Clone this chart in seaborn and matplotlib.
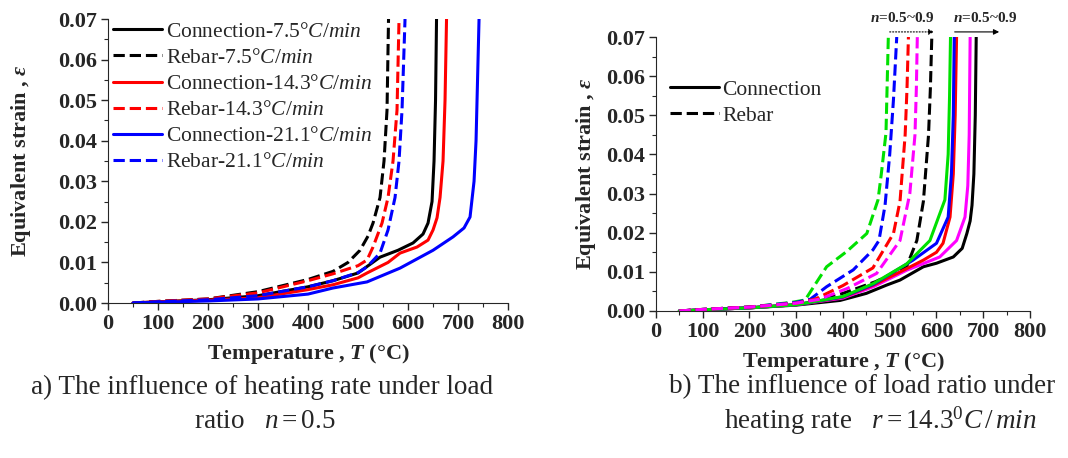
import pandas as pd
import matplotlib.pyplot as plt
import seaborn as sns

# -----------------------------
# DATA  (a) heating rate, n = 0.5
# -----------------------------
a_labels = ["Connection-7.5°$C/min$", "Rebar-7.5°$C/min$",
            "Connection-14.3°$C/min$", "Rebar-14.3°$C/min$",
            "Connection-21.1°$C/min$", "Rebar-21.1°$C/min$"]

a_T_conn_75 = [50, 100, 200, 300, 400, 450, 500, 544, 580, 610, 630, 640, 648, 652, 655, 657]
a_e_conn_75 = [0, 0.0003, 0.0008, 0.0018, 0.0040, 0.0055, 0.0074, 0.0113, 0.0130, 0.0148,
               0.0170, 0.0197, 0.025, 0.035, 0.050, 0.070]
a_T_reb_75 = [50, 100, 200, 300, 400, 450, 480, 504, 520, 530, 544, 552, 558, 561]
a_e_reb_75 = [0, 0.0004, 0.0010, 0.0028, 0.0058, 0.0078, 0.0100, 0.0130, 0.0165, 0.0197,
              0.026, 0.035, 0.0476, 0.070]
a_T_conn_143 = [50, 100, 200, 300, 400, 450, 500, 518, 560, 584, 618, 640, 650, 658, 664, 670, 674, 677]
a_e_conn_143 = [0, 0.0003, 0.0007, 0.0013, 0.0033, 0.0045, 0.0062, 0.0074, 0.0100, 0.0123,
                0.0138, 0.0155, 0.018, 0.021, 0.026, 0.035, 0.050, 0.070]
a_T_reb_143 = [50, 100, 200, 300, 400, 450, 500, 518, 530, 548, 560, 570, 578, 582]
a_e_reb_143 = [0, 0.0004, 0.0010, 0.0025, 0.0055, 0.0072, 0.0092, 0.0106, 0.0138, 0.0197,
               0.026, 0.035, 0.0476, 0.070]
a_T_conn_211 = [50, 100, 200, 300, 400, 450, 518, 584, 650, 690, 712, 724, 732, 736, 739, 742]
a_e_conn_211 = [0, 0.0002, 0.0005, 0.0010, 0.0022, 0.0037, 0.0052, 0.0086, 0.013, 0.0163,
                0.0185, 0.0212, 0.030, 0.040, 0.055, 0.070]
a_T_reb_211 = [50, 100, 200, 300, 400, 450, 500, 518, 544, 560, 574, 582, 588, 594]
a_e_reb_211 = [0, 0.0003, 0.0008, 0.0018, 0.0040, 0.0055, 0.0075, 0.0089, 0.0123, 0.018,
               0.026, 0.035, 0.0476, 0.070]

# -----------------------------
# DATA  (b) load ratio, r = 14.3 C/min
# -----------------------------
b_T_conn_black = [50, 100, 200, 300, 394, 450, 493, 522, 572, 600, 636, 655, 665, 672, 676, 680, 683, 685]
b_e_conn_black = [0, 0.0003, 0.0008, 0.0015, 0.0027, 0.0045, 0.0066, 0.0079, 0.0113, 0.0122,
                  0.0138, 0.0160, 0.0198, 0.023, 0.027, 0.035, 0.050, 0.070]
b_T_conn_mag = [50, 100, 200, 300, 400, 465, 536, 607, 643, 661, 667, 670, 672]
b_e_conn_mag = [0, 0.0003, 0.0008, 0.0016, 0.0033, 0.0062, 0.0104, 0.0138, 0.018, 0.024, 0.032, 0.045, 0.070]
b_T_conn_red = [50, 100, 200, 300, 400, 465, 536, 572, 600, 614, 629, 636, 640, 643]
b_e_conn_red = [0, 0.0003, 0.0008, 0.0016, 0.0035, 0.0066, 0.0108, 0.013, 0.015, 0.0173,
                0.024, 0.035, 0.050, 0.070]
b_T_conn_blue = [50, 100, 200, 300, 400, 465, 550, 600, 625, 632, 636, 638]
b_e_conn_blue = [0, 0.0003, 0.0008, 0.0016, 0.0036, 0.0068, 0.013, 0.0173, 0.024, 0.035, 0.050, 0.070]
b_T_conn_green = [50, 100, 200, 300, 400, 465, 536, 586, 618, 625, 628, 630]
b_e_conn_green = [0, 0.0003, 0.0008, 0.0016, 0.0037, 0.0070, 0.012, 0.018, 0.0284, 0.040, 0.055, 0.070]

b_T_reb_green = [50, 100, 200, 290, 319, 365, 408, 451, 475, 482, 492, 497]
b_e_reb_green = [0, 0.0004, 0.0010, 0.0022, 0.0028, 0.0113, 0.0152, 0.0198, 0.0284, 0.035, 0.0455, 0.070]
b_T_reb_blue = [50, 100, 200, 300, 330, 365, 422, 464, 477, 490, 500, 508, 515]
b_e_reb_blue = [0, 0.0004, 0.0010, 0.0022, 0.0030, 0.0062, 0.0105, 0.0156, 0.018, 0.027, 0.040, 0.054, 0.070]
b_T_reb_red = [50, 100, 200, 300, 340, 400, 464, 508, 522, 533, 537, 540]
b_e_reb_red = [0, 0.0004, 0.0010, 0.0020, 0.0030, 0.0065, 0.011, 0.0198, 0.028, 0.045, 0.057, 0.070]
b_T_reb_mag = [50, 100, 200, 300, 350, 410, 472, 522, 543, 554, 557, 559]
b_e_reb_mag = [0, 0.0004, 0.0010, 0.0020, 0.0030, 0.0058, 0.0096, 0.018, 0.030, 0.045, 0.057, 0.070]
b_T_reb_black = [50, 100, 200, 300, 400, 470, 536, 558, 572, 583, 587, 590]
b_e_reb_black = [0, 0.0004, 0.0010, 0.0020, 0.0045, 0.0075, 0.0113, 0.018, 0.028, 0.045, 0.057, 0.070]

x_ticks = [0, 100, 200, 300, 400, 500, 600, 700, 800]
y_ticks = [0.00, 0.01, 0.02, 0.03, 0.04, 0.05, 0.06, 0.07]

# -----------------------------
# STYLE
# -----------------------------
sns.set_style("ticks")
plt.rcParams["font.family"] = ["Liberation Serif", "DejaVu Serif"]
plt.rcParams["mathtext.fontset"] = "custom"
plt.rcParams["mathtext.rm"] = "Liberation Serif"
plt.rcParams["mathtext.it"] = "Liberation Serif:italic"
plt.rcParams["mathtext.bf"] = "Liberation Serif:bold"
plt.rcParams["mathtext.bfit"] = "Liberation Serif:italic:bold"

GREEN = "#00e000"
MAG = "#ff00ff"
LW = 2.2

fig = plt.figure(figsize=(10.68, 4.58), dpi=100)
ax1 = fig.add_axes([0.1011, 0.3384, 0.3746, 0.6201])
ax2 = fig.add_axes([0.6142, 0.3210, 0.3502, 0.5982])


def draw(ax, T, e, color, ls, label=None):
    d = pd.DataFrame({"T": T, "e": e})
    sns.lineplot(data=d, x="T", y="e", ax=ax, color=color, linestyle=ls, lw=LW,
                 sort=False, estimator=None, label=label, legend=False)


# (a)
draw(ax1, a_T_conn_75, a_e_conn_75, "black", "-", a_labels[0])
draw(ax1, a_T_reb_75, a_e_reb_75, "black", "--", a_labels[1])
draw(ax1, a_T_conn_143, a_e_conn_143, "red", "-", a_labels[2])
draw(ax1, a_T_reb_143, a_e_reb_143, "red", "--", a_labels[3])
draw(ax1, a_T_conn_211, a_e_conn_211, "blue", "-", a_labels[4])
draw(ax1, a_T_reb_211, a_e_reb_211, "blue", "--", a_labels[5])

# (b)
draw(ax2, b_T_conn_black, b_e_conn_black, "black", "-", "Connection")
draw(ax2, b_T_reb_black, b_e_reb_black, "black", "--", "Rebar")
draw(ax2, b_T_conn_mag, b_e_conn_mag, MAG, "-")
draw(ax2, b_T_conn_red, b_e_conn_red, "red", "-")
draw(ax2, b_T_conn_blue, b_e_conn_blue, "blue", "-")
draw(ax2, b_T_conn_green, b_e_conn_green, GREEN, "-")
draw(ax2, b_T_reb_green, b_e_reb_green, GREEN, "--")
draw(ax2, b_T_reb_blue, b_e_reb_blue, "blue", "--")
draw(ax2, b_T_reb_red, b_e_reb_red, "red", "--")
draw(ax2, b_T_reb_mag, b_e_reb_mag, MAG, "--")

for ax in (ax1, ax2):
    ax.set_xlim(0, 800)
    ax.set_ylim(0, 0.07)
    ax.set_xticks(x_ticks)
    ax.set_yticks(y_ticks)
    ax.set_xticklabels([str(t) for t in x_ticks])
    ax.set_yticklabels([f"{t:.2f}" for t in y_ticks])
    ax.set_xticks([t + 50 for t in x_ticks[:-1]], minor=True)
    ax.set_yticks([t + 0.005 for t in y_ticks[:-1]], minor=True)
    ax.tick_params(which="major", direction="out", length=5, width=1, labelsize=16, pad=3)
    ax.tick_params(which="minor", direction="out", length=3, width=0.8)
    for lab in ax.get_xticklabels() + ax.get_yticklabels():
        lab.set_fontweight("bold")
    sns.despine(ax=ax)
    ax.set_xlabel("Temperature , $\\mathbfit{T}$ (°C)", fontsize=16, fontweight="bold", labelpad=6)

ax1.set_ylabel("Equivalent strain , $\\mathbfit{\\varepsilon}$", fontsize=16, fontweight="bold", labelpad=18)
ax2.set_ylabel("Equivalent strain , $\\mathbfit{\\varepsilon}$", fontsize=16, fontweight="bold", labelpad=6)

ax1.legend(loc="upper left", bbox_to_anchor=(0.0125, 0.99), frameon=False, fontsize=15.5,
           borderpad=0, borderaxespad=0, handlelength=2.3, handletextpad=0.15, labelspacing=0.28)
ax2.legend(loc="upper left", bbox_to_anchor=(0.037, 0.845), frameon=False, fontsize=15.5,
           borderpad=0, borderaxespad=0, handlelength=2.3, handletextpad=0.15, labelspacing=0.28)

# n = 0.5~0.9 arrows above panel (b)
ax2.annotate("", xy=(601, 0.0713), xytext=(494, 0.0713), annotation_clip=False,
             arrowprops=dict(arrowstyle="-|>", color="black", lw=0.8, ls=":", mutation_scale=8))
ax2.annotate("", xy=(740, 0.0713), xytext=(633, 0.0713), annotation_clip=False,
             arrowprops=dict(arrowstyle="-|>", color="black", lw=0.8, mutation_scale=8))
ax2.text(526, 0.0749, "$\\mathbfit{n}$=0.5~0.9", ha="center", va="center", fontsize=11, fontweight="bold")
ax2.text(704, 0.0749, "$\\mathbfit{n}$=0.5~0.9", ha="center", va="center", fontsize=11, fontweight="bold")

# captions
fig.text(262 / 1068, 1 - 387 / 458, "a) The influence of heating rate under load",
         ha="center", va="center", fontsize=19.5)
fig.text(265 / 1068, 1 - 421 / 458, "ratio   $n=0.5$", ha="center", va="center", fontsize=19.5)
fig.text(862 / 1068, 1 - 387 / 458, "b) The influence of load ratio under",
         ha="center", va="center", fontsize=19.5)
fig.text(880 / 1068, 1 - 421 / 458, "heating rate   $r=14.3^0C\\,/\\,min$",
         ha="center", va="center", fontsize=19.5)

plt.savefig("out.png", dpi=100)
plt.close()
